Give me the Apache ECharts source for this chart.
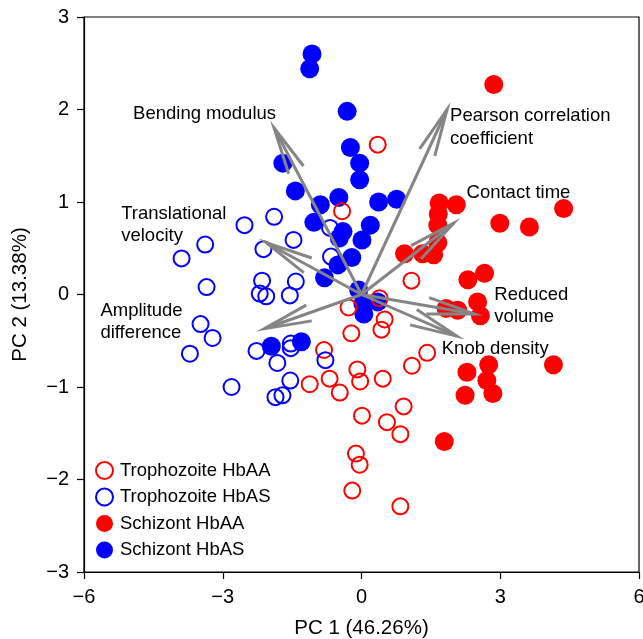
<!DOCTYPE html>
<html>
<head>
<meta charset="utf-8">
<script src="https://cdn.jsdelivr.net/npm/echarts@6/dist/echarts.min.js"></script>
<style>
html,body{margin:0;padding:0;background:#fff;}
#chart{width:643px;height:639px;}
</style>
</head>
<body>
<div id="chart"></div>
<script>
// ---- Data ----
var seriesNames = ['Trophozoite HbAA', 'Trophozoite HbAS', 'Schizont HbAA', 'Schizont HbAS'];

var trophHbAA = [
  [0.35, 1.62], [-0.42, 0.90], [1.08, 0.15], [0.39, -0.04], [-0.28, -0.14],
  [0.50, -0.27], [0.43, -0.38], [-0.22, -0.42], [1.42, -0.63], [1.09, -0.77],
  [-0.81, -0.60], [-1.12, -0.97], [-0.69, -0.91], [-0.47, -1.06], [-0.09, -0.81],
  [-0.03, -0.94], [0.46, -0.91], [0.91, -1.21], [0.01, -1.31], [0.55, -1.38],
  [0.84, -1.51], [-0.12, -1.72], [-0.04, -1.84], [-0.20, -2.12], [0.84, -2.29]
];
var trophHbAS = [
  [-2.53, 0.75], [-1.89, 0.84], [-0.68, 0.72], [-1.47, 0.59], [-2.12, 0.49],
  [-3.38, 0.54], [-3.89, 0.39], [-3.35, 0.08], [-2.15, 0.15], [-1.42, 0.14],
  [-0.66, 0.41], [-2.20, 0.01], [-2.06, -0.02], [-1.55, -0.01], [-3.48, -0.32],
  [-3.22, -0.47], [-3.71, -0.64], [-2.27, -0.61], [-1.82, -0.74], [-1.53, -0.58],
  [-1.53, -0.53], [-1.54, -0.93], [-2.81, -1.00], [-1.86, -1.11], [-1.71, -1.09],
  [-0.78, -0.71]
];
var schizHbAA = [
  [2.86, 2.27], [4.37, 0.93], [2.99, 0.77], [3.63, 0.73], [1.68, 0.99],
  [2.05, 0.97], [1.66, 0.87], [1.65, 0.75], [1.65, 0.56], [1.56, 0.43],
  [1.32, 0.44], [0.93, 0.44], [2.30, 0.16], [2.66, 0.23], [2.51, -0.08],
  [2.57, -0.23], [2.08, -0.17], [1.83, -0.15], [2.28, -0.84], [2.75, -0.76],
  [2.71, -0.93], [2.84, -1.07], [2.24, -1.09], [4.15, -0.76], [1.79, -1.59]
];
var schizHbAS = [
  [-1.07, 2.60], [-1.12, 2.44], [-0.31, 1.98], [-0.24, 1.59], [-0.04, 1.42],
  [-0.04, 1.24], [-1.70, 1.42], [-1.43, 1.12], [-0.89, 0.97], [-0.49, 1.05],
  [0.37, 1.00], [0.76, 1.03], [-1.03, 0.78], [-0.40, 0.68], [-0.48, 0.61],
  [0.19, 0.75], [0.01, 0.59], [-0.21, 0.40], [-0.51, 0.32], [-0.80, 0.18],
  [-0.06, 0.05], [0.03, -0.10], [0.05, -0.21], [0.35, -0.08], [-1.95, -0.56],
  [-1.30, -0.51]
];

// Loading vectors (arrow tips), from origin
var loadingNames = ['Bending modulus', 'Pearson correlation\ncoefficient', 'Contact time',
  'Translational\nvelocity', 'Amplitude\ndifference', 'Reduced\nvolume', 'Knob density'];
var loadingX = [-1.89, 1.85, 1.99, -2.06, -2.10, 2.44, 2.06];
var loadingY = [1.80, 2.00, 0.77, 0.56, -0.37, -0.21, -0.45];

var xTicks = [-6, -3, 0, 3, 6];
var yTicks = [-3, -2, -1, 0, 1, 2, 3];

// ---- Styling (not data) ----
var labelOffsets = [[-141, -14], [3, 18], [13, -30], [-145, -18], [-164, -7], [20, -8], [-15, 13]];
var FONT = '"Liberation Sans", Arial, Helvetica, sans-serif';
var RED = '#ff0000', BLUE = '#0000ff', GRAY = '#858585';
var NAME_FS = 20.5, TICK_FS = 20, TEXT_FS = 18.5;

function fmt(v) { return v < 0 ? '\u2212' + Math.abs(v) : String(v); }

var arrowData = loadingX.map(function (x, i) { return [x, loadingY[i], i]; });

var chart = echarts.init(document.getElementById('chart'), null, { renderer: 'canvas' });

function openSeries(name, data, color) {
  return {
    name: name, type: 'scatter', data: data, symbol: 'circle', symbolSize: 16, z: 3,
    itemStyle: { color: 'rgba(255,255,255,0)', borderColor: color, borderWidth: 2, opacity: 1 },
    emphasis: { disabled: true }
  };
}
function filledSeries(name, data, color) {
  return {
    name: name, type: 'scatter', data: data, symbol: 'circle', symbolSize: 19, z: 2,
    itemStyle: { color: color, opacity: 1 },
    emphasis: { disabled: true }
  };
}

var option = {
  animation: false,
  backgroundColor: '#fff',
  textStyle: { fontFamily: FONT },
  grid: { left: 84, right: 4, top: 17, bottom: 67, show: true, borderColor: '#000', borderWidth: 1.2,
    containLabel: false, outerBoundsMode: 'none' },
  xAxis: {
    type: 'value', min: xTicks[0], max: xTicks[xTicks.length - 1], interval: 3,
    name: 'PC 1 (46.26%)', nameLocation: 'middle', nameGap: 46,
    nameTextStyle: { fontSize: NAME_FS, color: '#000', fontFamily: FONT },
    axisLine: { show: true, onZero: false, lineStyle: { color: '#000', width: 1.2 } },
    axisTick: { show: true, length: 7, inside: false, lineStyle: { color: '#000', width: 1.2 } },
    axisLabel: { fontSize: TICK_FS, color: '#000', margin: 15, formatter: fmt, fontFamily: FONT },
    splitLine: { show: false }
  },
  yAxis: {
    type: 'value', min: yTicks[0], max: yTicks[yTicks.length - 1], interval: 1,
    name: 'PC 2 (13.38%)', nameLocation: 'middle', nameGap: 53, nameRotate: 90,
    nameTextStyle: { fontSize: NAME_FS, color: '#000', fontFamily: FONT },
    axisLine: { show: true, onZero: false, lineStyle: { color: '#000', width: 1.2 } },
    axisTick: { show: true, length: 7, inside: false, lineStyle: { color: '#000', width: 1.2 } },
    axisLabel: { fontSize: TICK_FS, color: '#000', margin: 15, formatter: fmt, fontFamily: FONT },
    splitLine: { show: false }
  },
  legend: {
    data: seriesNames, orient: 'vertical', left: 90, top: 456,
    itemWidth: 17, itemHeight: 17, itemGap: 7.5,
    textStyle: { fontSize: TEXT_FS, color: '#000', fontFamily: FONT, padding: [0, 0, 0, 2] },
    icon: 'circle', selectedMode: false
  },
  series: [
    openSeries(seriesNames[0], trophHbAA, RED),
    openSeries(seriesNames[1], trophHbAS, BLUE),
    filledSeries(seriesNames[2], schizHbAA, RED),
    filledSeries(seriesNames[3], schizHbAS, BLUE),
    {
      type: 'custom', name: 'loadings', z: 10, silent: true,
      data: arrowData,
      encode: { x: 0, y: 1 },
      renderItem: function (params, api) {
        var o = api.coord([0, 0]);
        var t = api.coord([api.value(0), api.value(1)]);
        var idx = api.value(2);
        var dx = t[0] - o[0], dy = t[1] - o[1];
        var ang = Math.atan2(dy, dx);
        var L = 48, half = 10 * Math.PI / 180;
        var a1 = [t[0] - L * Math.cos(ang - half), t[1] - L * Math.sin(ang - half)];
        var a2 = [t[0] - L * Math.cos(ang + half), t[1] - L * Math.sin(ang + half)];
        var off = labelOffsets[idx];
        return {
          type: 'group',
          children: [
            { type: 'line', shape: { x1: o[0], y1: o[1], x2: t[0], y2: t[1] },
              style: { stroke: GRAY, lineWidth: 3, lineCap: 'butt' } },
            { type: 'polyline', shape: { points: [a1, t, a2] },
              style: { stroke: GRAY, lineWidth: 3, fill: null, lineJoin: 'miter' } },
            { type: 'text', x: t[0] + off[0], y: t[1] + off[1],
              style: { text: loadingNames[idx], fill: '#000', font: TEXT_FS + 'px ' + FONT,
                align: 'left', verticalAlign: 'middle', lineHeight: 22.5 } }
          ]
        };
      }
    }
  ]
};
chart.setOption(option);
</script>
</body>
</html>
